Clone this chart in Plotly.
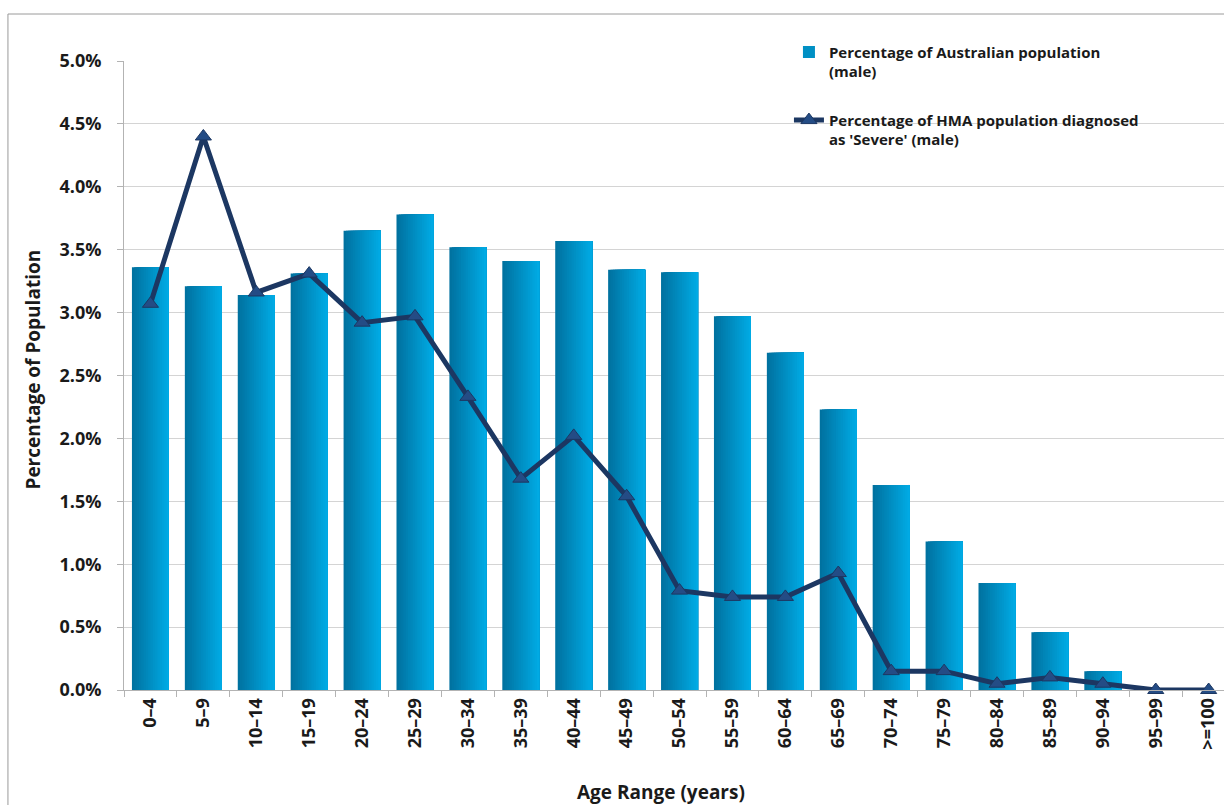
import plotly.graph_objects as go

# Age bands (years)
age_ranges = ["0\u20134", "5\u20139", "10\u201314", "15\u201319", "20\u201324", "25\u201329",
              "30\u201334", "35\u201339", "40\u201344", "45\u201349", "50\u201354", "55\u201359",
              "60\u201364", "65\u201369", "70\u201374", "75\u201379", "80\u201384", "85\u201389",
              "90\u201394", "95\u201399", ">=100"]

# Percentage of Australian population (male), per age band
aus_population_pct = [3.36, 3.21, 3.14, 3.31, 3.65, 3.78, 3.52, 3.41, 3.57, 3.34, 3.32,
                      2.97, 2.68, 2.23, 1.63, 1.18, 0.85, 0.46, 0.15, 0.01, 0.0]

# Percentage of HMA population diagnosed as 'Severe' (male), per age band
hma_severe_pct = [3.07, 4.40, 3.16, 3.31, 2.92, 2.97, 2.33, 1.68, 2.02, 1.54, 0.79,
                  0.74, 0.74, 0.93, 0.15, 0.15, 0.05, 0.10, 0.05, 0.0, 0.0]

y_ticks = [0, 0.5, 1.0, 1.5, 2.0, 2.5, 3.0, 3.5, 4.0, 4.5, 5.0]

FONT = "'Open Sans', Lato, sans-serif"
TEXT = "#1a1a1a"

fig = go.Figure()

# Each column is built from overlapping strips, each starting a little further
# right and running to the column's right edge, so the fill shades from a deep
# blue on the left to a bright cyan on the right without seams.
n_strips = 16
bar_width = 0.7
step = bar_width / n_strips
dark = (0x00, 0x72, 0xA0)
light = (0x00, 0xAA, 0xE4)
for i in range(n_strips):
    t = i / (n_strips - 1)
    r, g, b = (round(dark[k] + (light[k] - dark[k]) * t) for k in range(3))
    fig.add_trace(go.Bar(
        x=age_ranges,
        y=aus_population_pct,
        width=bar_width - i * step,
        offset=-bar_width / 2 + i * step,
        marker=dict(color=f"rgb({r},{g},{b})", line=dict(width=0)),
        name="Percentage of Australian population<br>(male)",
        legendgroup="aus",
        showlegend=(i == n_strips // 2),
        hoverinfo="skip" if i else None,
    ))

fig.add_trace(go.Scatter(
    x=age_ranges,
    y=hma_severe_pct,
    mode="lines+markers",
    line=dict(color="#1c3762", width=5),
    marker=dict(symbol="triangle-up", size=14, color="#244c85",
                line=dict(color="#1c3762", width=1)),
    name="Percentage of HMA population diagnosed<br>as 'Severe' (male)",
    legendgroup="hma",
    cliponaxis=False,
))

fig.update_layout(
    width=1224,
    height=805,
    margin=dict(l=124, r=0, t=61, b=115),
    paper_bgcolor="white",
    plot_bgcolor="white",
    barmode="overlay",
    font=dict(family=FONT, color=TEXT),
    showlegend=True,
    legend=dict(
        x=0.6045, y=1.04, xanchor="left", yanchor="top",
        bgcolor="rgba(0,0,0,0)",
        font=dict(family=FONT, size=15, color=TEXT, weight="bold"),
        valign="top",
        tracegroupgap=26,
        itemwidth=30,
    ),
    xaxis=dict(
        type="category",
        range=[-0.5, 20.29],
        tickangle=-90,
        tickfont=dict(family=FONT, size=18, color=TEXT, weight="bold"),
        showline=True, linecolor="#b3b3b3", linewidth=1,
        ticks="outside", tickson="boundaries", ticklen=6, tickcolor="#b3b3b3",
        showgrid=False,
        zeroline=False,
    ),
    yaxis=dict(
        range=[0, 5.0],
        tickvals=y_ticks,
        ticktext=[f"{v:.1f}%" for v in y_ticks],
        tickfont=dict(family=FONT, size=18, color=TEXT, weight="bold"),
        showline=True, linecolor="#b3b3b3", linewidth=1,
        ticks="outside", ticklen=6, tickcolor="#b3b3b3",
        showgrid=True, gridcolor="#d4d4d4", gridwidth=1,
        zeroline=False,
        ticklabelstandoff=12,
    ),
    annotations=[
        dict(text="Percentage of Population", xref="paper", yref="paper",
             x=-0.083, y=0.509, xanchor="center", yanchor="middle",
             textangle=-90, showarrow=False,
             font=dict(family=FONT, size=19, color=TEXT, weight="bold")),
        dict(text="Age Range (years)", xref="paper", yref="paper",
             x=0.488, y=-0.162, xanchor="center", yanchor="middle",
             showarrow=False,
             font=dict(family=FONT, size=19, color=TEXT, weight="bold")),
    ],
    shapes=[
        dict(type="rect", xref="paper", yref="paper",
             x0=-0.1055, y0=-0.25, x1=1.05, y1=1.0747,
             line=dict(color="#9a9a9a", width=1), fillcolor="rgba(0,0,0,0)",
             layer="below"),
    ],
)

fig.write_html("out.html")
